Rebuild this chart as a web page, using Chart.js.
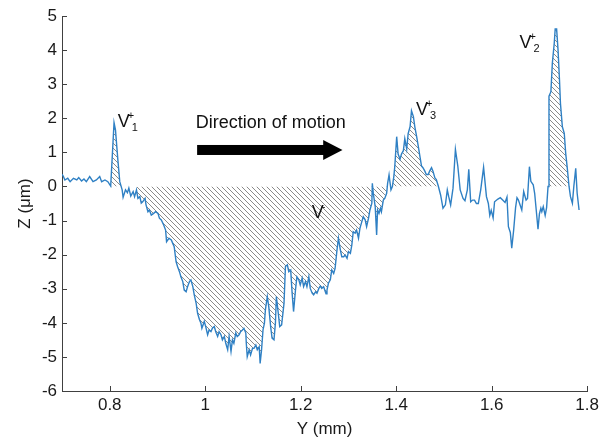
<!DOCTYPE html>
<html><head><meta charset="utf-8">
<script src="https://cdn.jsdelivr.net/npm/chart.js@4/dist/chart.umd.min.js"></script>
<style>html,body{margin:0;padding:0;background:#fff;}</style>
</head><body>
<canvas id="c" width="603" height="437"></canvas>
<script>
// Profile position Y (mm)
const yPos = [
0.700,0.703,0.706,0.712,0.717,0.724,0.731,0.735,0.741,0.746,0.751,0.758,0.765,0.772,0.779,0.783,0.790,0.796,0.802,0.809,
0.812,0.817,0.821,0.826,0.828,0.833,0.837,0.840,0.844,0.849,0.852,0.856,0.859,0.863,0.866,0.869,0.874,0.876,0.880,0.883,
0.887,0.892,0.896,0.901,0.904,0.908,0.913,0.917,0.919,0.924,0.929,0.932,0.935,0.939,0.942,0.946,0.949,0.953,0.956,0.960,
0.963,0.967,0.970,0.974,0.977,0.981,0.984,0.988,0.991,0.993,0.998,1.001,1.005,1.008,1.012,1.015,1.019,1.022,1.026,1.029,
1.033,1.036,1.040,1.043,1.047,1.050,1.054,1.057,1.060,1.064,1.067,1.071,1.074,1.078,1.081,1.085,1.086,1.088,1.092,1.095,
1.099,1.102,1.106,1.109,1.113,1.115,1.118,1.121,1.124,1.126,1.130,1.133,1.137,1.140,1.144,1.147,1.149,1.153,1.156,1.160,
1.165,1.168,1.172,1.175,1.179,1.182,1.185,1.189,1.192,1.196,1.199,1.203,1.206,1.210,1.213,1.217,1.220,1.224,1.227,1.231,
1.234,1.238,1.241,1.244,1.248,1.253,1.255,1.258,1.262,1.265,1.269,1.272,1.276,1.279,1.283,1.286,1.290,1.293,1.297,1.300,
1.304,1.307,1.310,1.314,1.317,1.321,1.324,1.328,1.331,1.335,1.338,1.342,1.345,1.349,1.350,1.352,1.356,1.359,1.361,1.364,
1.367,1.369,1.373,1.376,1.380,1.382,1.385,1.389,1.392,1.395,1.397,1.401,1.404,1.408,1.411,1.415,1.418,1.422,1.425,1.429,
1.432,1.436,1.439,1.443,1.446,1.450,1.453,1.456,1.460,1.463,1.467,1.470,1.474,1.477,1.481,1.484,1.488,1.493,1.498,1.503,
1.507,1.510,1.514,1.519,1.524,1.529,1.534,1.540,1.544,1.549,1.552,1.556,1.560,1.564,1.568,1.572,1.577,1.583,1.589,1.593,
1.596,1.599,1.603,1.606,1.613,1.618,1.623,1.628,1.632,1.635,1.639,1.642,1.646,1.650,1.653,1.656,1.663,1.667,1.672,1.675,
1.679,1.682,1.687,1.690,1.694,1.697,1.700,1.703,1.705,1.708,1.712,1.715,1.718,1.720,1.724,1.727,1.731,1.733,1.736,1.739,
1.742,1.744,1.748,1.752,1.755,1.758,1.762,1.765,1.769,1.772,1.776,1.779,1.783
];
// Surface height Z (µm)
const zHeight = [
0.36,0.29,0.19,0.24,0.14,0.24,0.19,0.26,0.16,0.22,0.14,0.29,0.14,0.19,0.29,0.14,0.19,0.14,0.01,1.87,
1.66,0.78,0.14,-0.10,-0.32,-0.10,-0.18,-0.05,-0.28,-0.15,-0.30,-0.10,-0.35,-0.30,-0.49,-0.45,-0.35,-0.54,-0.74,-0.69,
-0.84,-0.79,-0.74,-0.79,-0.93,-0.98,-1.13,-1.28,-1.62,-1.52,-1.57,-1.67,-1.77,-2.21,-2.35,-2.50,-2.65,-2.79,-3.04,-3.09,
-2.94,-2.79,-2.74,-2.94,-3.18,-3.43,-3.72,-3.91,-4.01,-4.16,-3.96,-4.11,-4.35,-4.21,-4.26,-4.16,-4.11,-4.26,-4.40,-4.26,
-4.35,-4.50,-4.40,-4.60,-4.79,-4.40,-4.84,-4.50,-4.60,-4.30,-4.40,-4.35,-4.26,-4.21,-4.16,-4.30,-4.60,-4.99,-4.79,-4.94,
-4.75,-4.75,-4.65,-4.79,-4.70,-5.19,-4.79,-4.21,-4.01,-3.62,-3.23,-3.52,-4.11,-4.45,-4.50,-4.01,-3.23,-3.72,-4.11,-4.06,
-3.43,-2.35,-2.30,-2.50,-2.45,-3.13,-3.67,-3.04,-2.65,-2.74,-2.89,-2.69,-2.94,-2.79,-2.94,-2.65,-2.99,-3.13,-3.18,-3.09,
-3.13,-2.99,-2.92,-2.99,-2.94,-3.15,-3.04,-2.84,-2.74,-2.45,-2.55,-2.40,-1.86,-1.52,-1.86,-2.06,-2.06,-2.01,-2.11,-1.91,
-1.96,-1.72,-1.33,-1.37,-1.28,-1.52,-1.23,-1.03,-0.89,-0.98,-1.18,-0.93,-0.69,-0.49,0.09,-0.20,-0.59,-1.42,-0.69,-0.79,
-0.64,-0.74,-0.40,-0.35,-0.20,0.09,0.34,-0.10,0.00,0.29,0.58,1.46,0.95,0.80,0.95,1.05,1.40,1.10,1.55,1.75,
2.22,2.05,1.75,1.45,1.20,0.85,0.60,0.55,0.45,0.35,0.35,0.45,0.55,0.45,0.25,0.20,0.02,-0.25,-0.64,-0.54,
-0.10,-0.30,-0.54,-0.05,1.09,0.60,-0.10,-0.35,-0.42,-0.10,0.50,-0.45,-0.40,-0.40,-0.50,-0.50,-0.10,0.56,-0.30,-0.50,
-0.85,-0.70,-0.92,-0.45,-0.37,-0.33,-0.40,-0.47,-0.31,-1.18,-1.35,-1.81,-1.28,-0.62,-0.33,-0.40,-0.69,-0.15,-0.40,-0.35,
0.58,0.15,0.05,-0.20,-0.80,-1.25,-0.80,-0.64,-0.74,-0.59,-0.85,-0.62,0.00,2.65,2.78,3.61,4.20,4.62,4.62,4.00,
3.12,2.44,1.75,1.56,0.97,0.58,0.00,-0.30,-0.49,0.00,0.53,-0.20,-0.69
];
const xTickValues = [0.8, 1, 1.2, 1.4, 1.6, 1.8];
const yTickValues = [-6, -5, -4, -3, -2, -1, 0, 1, 2, 3, 4, 5];
// Volume regions: name, Y range (mm), side of zero
const regionNames = ['V+1', 'V-', 'V+3', 'V+2'];
const regionStart = [0.800, 0.855, 1.388, 1.714];
const regionEnd   = [0.827, 1.383, 1.494, 1.766];
const regionSide  = [1, -1, 1, 1];

const FONT = '"Liberation Sans", Arial, Helvetica, sans-serif';
const AXIS_COLOR = '#404040';
const LINE_COLOR = '#2f80c4';

const canvas = document.getElementById('c');
const ctx0 = canvas.getContext('2d');
function makeHatch() {
  const t = document.createElement('canvas');
  t.width = 5; t.height = 5;
  const g = t.getContext('2d');
  g.strokeStyle = '#8a8a8a';
  g.lineWidth = 1;
  g.beginPath();
  g.moveTo(-1, -1); g.lineTo(6, 6);
  g.moveTo(-1, 4); g.lineTo(1, 6);
  g.moveTo(4, -1); g.lineTo(6, 1);
  g.stroke();
  return ctx0.createPattern(t, 'repeat');
}
const hatch = makeHatch();

const profile = yPos.map((x, i) => ({x: x, y: zHeight[i]}));
const regionSets = regionNames.map((name, k) => ({
  label: name,
  data: profile.filter(p => p.x >= regionStart[k] && p.x <= regionEnd[k]),
  borderWidth: 0,
  borderColor: 'rgba(0,0,0,0)',
  pointRadius: 0,
  tension: 0,
  fill: {target: 'origin',
         above: regionSide[k] > 0 ? hatch : 'rgba(0,0,0,0)',
         below: regionSide[k] < 0 ? hatch : 'rgba(0,0,0,0)'}
}));

function labelAt(ctx, xs, ys, sup, sub, px, py) {
  const x = xs.getPixelForValue(px), y = ys.getPixelForValue(py);
  ctx.font = '18px ' + FONT;
  ctx.textBaseline = 'alphabetic';
  ctx.textAlign = 'left';
  ctx.fillText('V', x, y);
  const w = ctx.measureText('V').width;
  ctx.font = '11px ' + FONT;
  ctx.fillText(sup, x + w - 2, y - 8);
  if (sub) ctx.fillText(sub, x + w + 2, y + 4);
}

const decor = {
  id: 'decor',
  afterDraw(chart) {
    const {ctx, scales: {x, y}} = chart;
    ctx.save();
    // inward tick marks
    ctx.strokeStyle = AXIS_COLOR;
    ctx.lineWidth = 1;
    ctx.beginPath();
    xTickValues.forEach(v => {
      const px = Math.round(x.getPixelForValue(v)) + 0.5;
      ctx.moveTo(px, y.bottom); ctx.lineTo(px, y.bottom - 5);
    });
    yTickValues.forEach(v => {
      const py = Math.round(y.getPixelForValue(v)) + 0.5;
      ctx.moveTo(x.left, py); ctx.lineTo(x.left + 5, py);
    });
    ctx.stroke();
    // region labels
    ctx.fillStyle = '#111';
    labelAt(ctx, x, y, '+', '1', 0.8167, 1.74);
    labelAt(ctx, x, y, '+', '3', 1.4417, 2.10);
    labelAt(ctx, x, y, '+', '2', 1.6583, 4.06);
    labelAt(ctx, x, y, '-', '', 1.2229, -0.92);
    // direction of motion
    ctx.font = '18px ' + FONT;
    ctx.textAlign = 'left';
    ctx.textBaseline = 'alphabetic';
    ctx.fillText('Direction of motion', x.getPixelForValue(0.980), y.getPixelForValue(1.72));
    const ax0 = x.getPixelForValue(0.983), ax1 = x.getPixelForValue(1.247), ax2 = x.getPixelForValue(1.2875);
    const ay = y.getPixelForValue(1.07);
    ctx.fillStyle = '#000';
    ctx.fillRect(ax0, ay - 5, ax1 - ax0 + 1, 10);
    ctx.beginPath();
    ctx.moveTo(ax1, ay - 10); ctx.lineTo(ax2, ay); ctx.lineTo(ax1, ay + 10); ctx.closePath();
    ctx.fill();
    ctx.restore();
  }
};

new Chart(canvas, {
  type: 'line',
  data: {
    datasets: [{
      label: 'profile',
      data: profile,
      borderColor: LINE_COLOR,
      borderWidth: 1.4,
      pointRadius: 0,
      tension: 0,
      fill: false
    }].concat(regionSets)
  },
  options: {
    responsive: false,
    animation: false,
    devicePixelRatio: 1,
    layout: {padding: {left: 0, right: 13, top: 16, bottom: 0}},
    plugins: {legend: {display: false}, tooltip: {enabled: false}},
    scales: {
      x: {
        type: 'linear', min: 0.7, max: 1.8,
        afterBuildTicks: s => { s.ticks = xTickValues.map(v => ({value: v})); },
        afterFit: s => { s.height = 46; },
        grid: {display: false, drawTicks: false},
        border: {display: true, color: AXIS_COLOR, width: 1},
        ticks: {autoSkip: false, maxRotation: 0, padding: 4, color: '#1a1a1a',
                font: {family: FONT, size: 17}, callback: v => String(v)},
        title: {display: true, text: 'Y (mm)', color: '#1a1a1a', font: {family: FONT, size: 17},
                padding: {top: 0, bottom: -3}}
      },
      y: {
        type: 'linear', min: -6, max: 5,
        afterBuildTicks: s => { s.ticks = yTickValues.map(v => ({value: v})); },
        afterFit: s => { s.width = 62; },
        grid: {display: false, drawTicks: false},
        border: {display: true, color: AXIS_COLOR, width: 1},
        ticks: {autoSkip: false, padding: 5, color: '#1a1a1a',
                font: {family: FONT, size: 17}, callback: v => String(v)},
        title: {display: true, text: 'Z (μm)', color: '#1a1a1a', font: {family: FONT, size: 17},
                padding: {top: 15, bottom: 0}}
      }
    }
  },
  plugins: [decor]
});
</script>
</body></html>
